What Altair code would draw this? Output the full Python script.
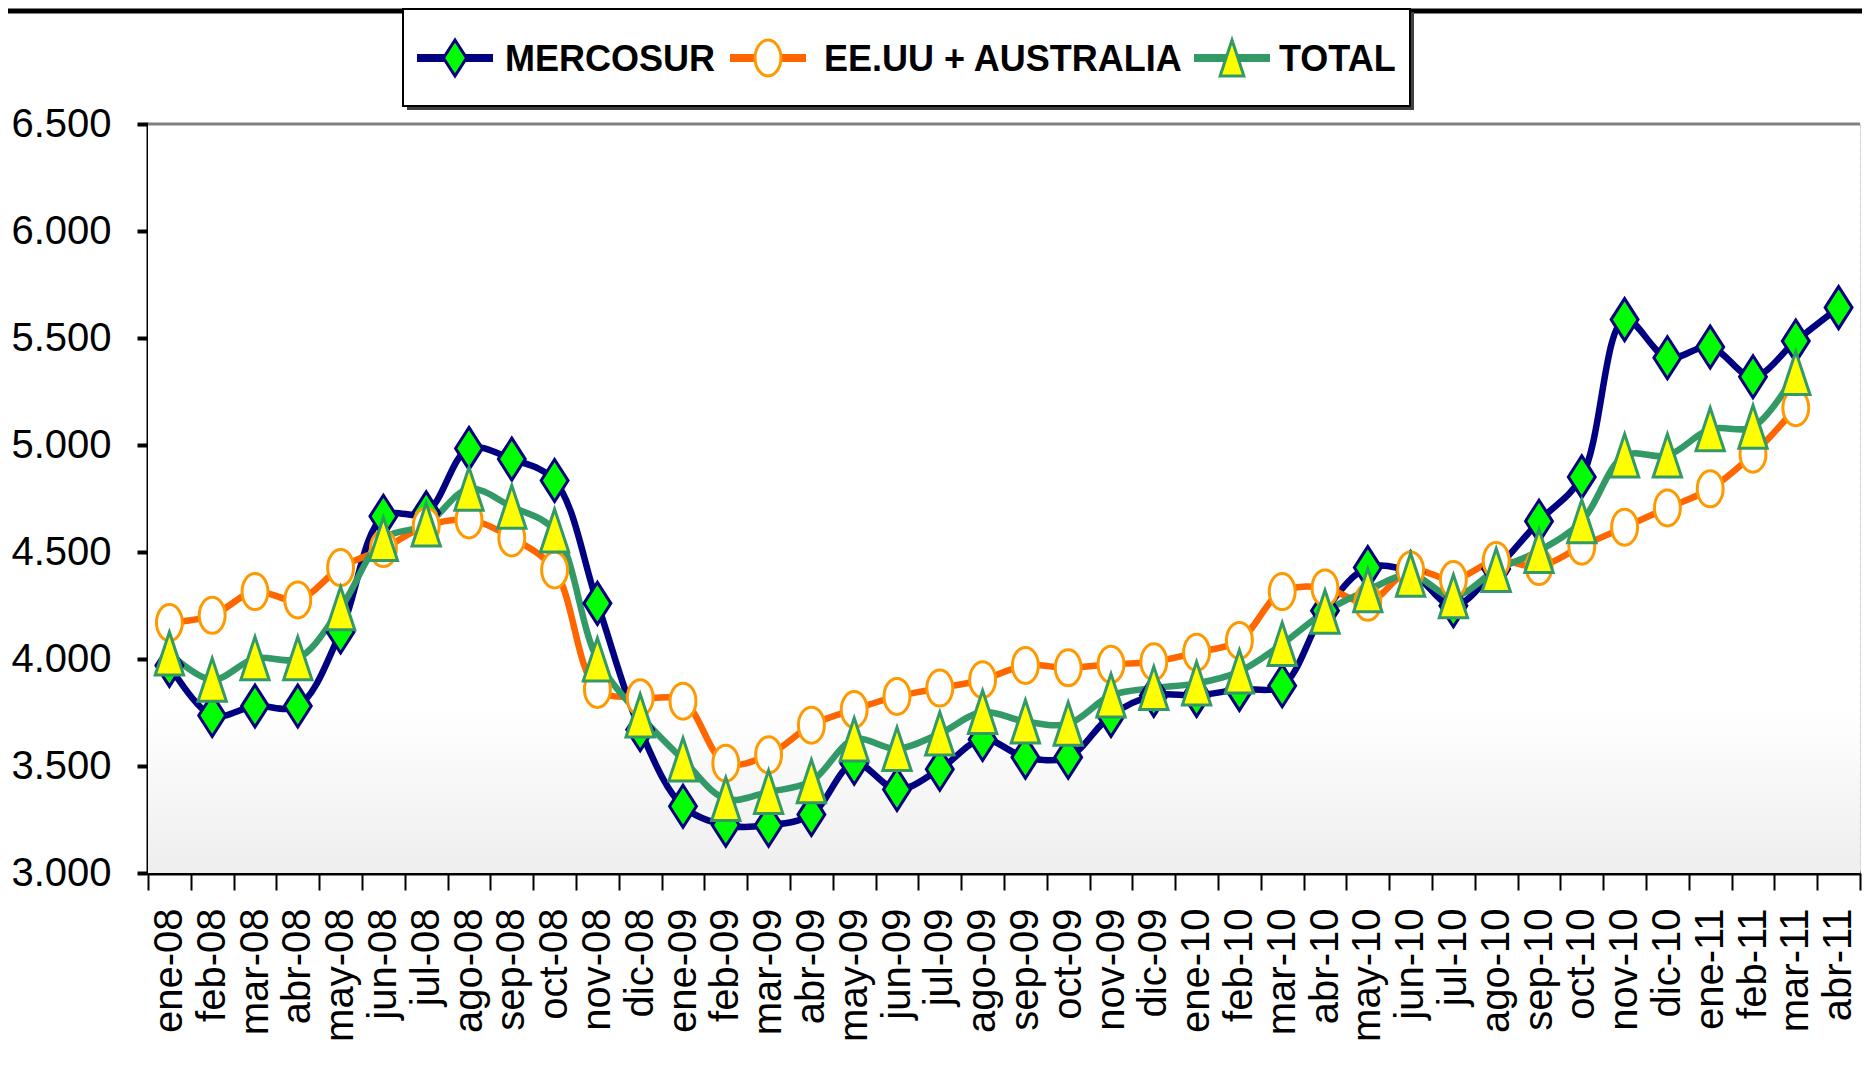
import altair as alt
import pandas as pd

meses = ["ene-08", "feb-08", "mar-08", "abr-08", "may-08", "jun-08", "jul-08", "ago-08",
         "sep-08", "oct-08", "nov-08", "dic-08", "ene-09", "feb-09", "mar-09", "abr-09",
         "may-09", "jun-09", "jul-09", "ago-09", "sep-09", "oct-09", "nov-09", "dic-09",
         "ene-10", "feb-10", "mar-10", "abr-10", "may-10", "jun-10", "jul-10", "ago-10",
         "sep-10", "oct-10", "nov-10", "dic-10", "ene-11", "feb-11", "mar-11", "abr-11"]

mercosur = [3970, 3736, 3780, 3780, 4126, 4667, 4683, 4984, 4934, 4834,
            4260, 3669, 3312, 3223, 3223, 3273, 3513, 3390, 3485, 3624,
            3541, 3541, 3736, 3830, 3830, 3858, 3875, 4226, 4427, 4405,
            4249, 4421, 4644, 4851, 5586, 5408, 5458, 5319, 5486, 5642]

eeuu_australia = [4170, 4204, 4315, 4276, 4427, 4516, 4622, 4650, 4566, 4416,
                  3858, 3819, 3803, 3513, 3552, 3691, 3764, 3825, 3864, 3903,
                  3970, 3959, 3975, 3987, 4031, 4087, 4315, 4332, 4265, 4416,
                  4371, 4460, 4432, 4527, 4616, 4706, 4795, 4957, 5174, None]

total = [4026, 3903, 4003, 4003, 4237, 4561, 4628, 4795, 4711, 4600,
         3998, 3736, 3530, 3346, 3379, 3429, 3624, 3580, 3652, 3752,
         3708, 3697, 3830, 3864, 3886, 3942, 4070, 4221, 4321, 4394,
         4293, 4416, 4505, 4644, 4951, 4951, 5074, 5085, 5336, None]

series = ["MERCOSUR", "EE.UU + AUSTRALIA", "TOTAL"]
y_ticks = [3000, 3500, 4000, 4500, 5000, 5500, 6000, 6500]

rows = []
for s, vals in zip(series, [mercosur, eeuu_australia, total]):
    for m, v in zip(meses, vals):
        rows.append({"mes": m, "serie": s, "valor": v})
df = pd.DataFrame(rows)

W, H = 1712, 749
FONT = "Liberation Sans, Arial, sans-serif"

# styles
line_colors = ["#000080", "#FF6600", "#339966"]
mk_stroke = ["#000080", "#FF9900", "#339966"]
mk_fill = ["#00FF00", "#FFFFFF", "#FFFF00"]
DIAMOND = "M0,-1L0.64,0L0,1L-0.64,0Z"
ELLIPSE = ("M0,-1C0.397,-1 0.72,-0.552 0.72,0C0.72,0.552 0.397,1 0,1"
           "C-0.397,1 -0.72,0.552 -0.72,0C-0.72,-0.552 -0.397,-1 0,-1Z")
TRIANGLE = "M0,-1L0.66,1L-0.66,1Z"
shapes = [DIAMOND, ELLIPSE, TRIANGLE]
sizes = [1764, 1296, 1849]

x_enc = alt.X(
    "mes:N", sort=meses, bandPosition=0.5,
    scale=alt.Scale(type="band", paddingInner=0, paddingOuter=0),
    axis=alt.Axis(title=None, labelAngle=-90, labelFont=FONT, labelFontSize=40,
                  labelColor="black", labelPadding=18, tickBand="extent",
                  tickSize=17, tickWidth=2, tickColor="black", domainWidth=4,
                  domainColor="black", grid=True, gridDash=[4, 4],
                  gridColor="#d0d0d0", gridWidth=1),
)
y_enc = alt.Y(
    "valor:Q", scale=alt.Scale(domain=[3000, 6500], nice=False, zero=False),
    axis=alt.Axis(title=None, values=y_ticks,
                  labelExpr="replace(format(datum.value, ','), ',', '.')",
                  labelFont=FONT, labelFontSize=40, labelColor="black",
                  labelPadding=26, tickSize=11, tickWidth=4, tickColor="black",
                  domainWidth=4, domainColor="black", gridColor="#dcdcdc",
                  gridWidth=1.5),
)

dummy = pd.DataFrame({"a": [0]})

bg = alt.Chart(dummy).mark_rect(
    color=alt.Gradient(gradient="linear", x1=0, x2=0, y1=0, y2=1,
                       stops=[alt.GradientStop(color="#ffffff", offset=0),
                              alt.GradientStop(color="#ffffff", offset=0.78),
                              alt.GradientStop(color="#eeeeee", offset=1)])
).encode(x=alt.value(0), x2=alt.value(W), y=alt.value(0), y2=alt.value(H))

top_border = alt.Chart(dummy).mark_rule(color="#808080", strokeWidth=3).encode(
    x=alt.value(0), x2=alt.value(W), y=alt.value(0))

frame_top = alt.Chart(dummy).mark_rule(color="black", strokeWidth=5).encode(
    x=alt.value(-140), x2=alt.value(W + 2), y=alt.value(-113))

line_layers = []
point_layers = []
for s, lc, ms, mf, shp, sz in zip(series, line_colors, mk_stroke, mk_fill, shapes, sizes):
    d = df[df["serie"] == s]
    line_layers.append(
        alt.Chart(d).mark_line(color=lc, strokeWidth=6.5, interpolate="catmull-rom")
        .encode(x=x_enc, y=y_enc))
    point_layers.append(
        alt.Chart(d).mark_point(shape=shp, size=sz, fill=mf, stroke=ms, strokeWidth=3,
                                opacity=1, fillOpacity=1, filled=False)
        .encode(x=x_enc, y=y_enc))

# manual legend (layout offsets in plot coordinates)
leg_box = [255, 1262, -116, -18]
leg_sym_x = [307, 620, 1084]
leg_half = 38
leg_text_x = [357, 676, 1131]
leg_y = -66
legend_layers = [
    alt.Chart(dummy).mark_rect(color="#404040").encode(
        x=alt.value(leg_box[0] + 4), x2=alt.value(leg_box[1] + 4),
        y=alt.value(leg_box[2] + 4), y2=alt.value(leg_box[3] + 4)),
    alt.Chart(dummy).mark_rect(fill="white", stroke="black", strokeWidth=2).encode(
        x=alt.value(leg_box[0]), x2=alt.value(leg_box[1]),
        y=alt.value(leg_box[2] + 1), y2=alt.value(leg_box[3])),
]
for s, lc, ms, mf, shp, sx, tx in zip(series, line_colors, mk_stroke, mk_fill, shapes,
                                       leg_sym_x, leg_text_x):
    legend_layers.append(
        alt.Chart(dummy).mark_rule(color=lc, strokeWidth=8).encode(
            x=alt.value(sx - leg_half), x2=alt.value(sx + leg_half), y=alt.value(leg_y)))
    legend_layers.append(
        alt.Chart(dummy).mark_point(shape=shp, size=1296, fill=mf, stroke=ms, strokeWidth=3,
                                    opacity=1, fillOpacity=1).encode(
            x=alt.value(sx), y=alt.value(leg_y)))
    legend_layers.append(
        alt.Chart(dummy).mark_text(text=s, font=FONT, fontSize=36, fontWeight="bold",
                                   color="black", align="left", baseline="middle").encode(
            x=alt.value(tx), y=alt.value(leg_y + 2)))

chart = alt.layer(bg, top_border, frame_top, *line_layers, *point_layers,
                  *legend_layers).properties(
    width=W, height=H,
    padding={"left": 140, "top": 116, "right": 2, "bottom": 200},
    autosize=alt.AutoSizeParams(type="none"),
).configure_view(stroke=None).configure(background="white")

chart.save("out.html", embed_options={"renderer": "svg", "actions": False})
